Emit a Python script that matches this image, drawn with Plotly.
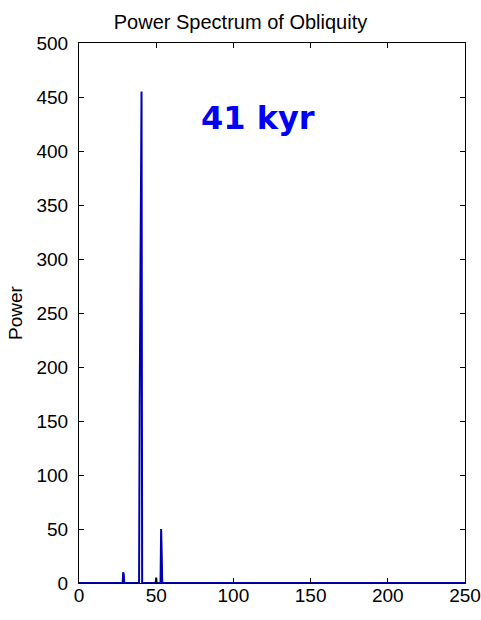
import plotly.graph_objects as go

# Period (kyr) and spectral power
period = [0, 28.3, 28.6, 29.0, 29.3, 38.9, 39.3, 39.9, 40.5, 40.9,
          49.6, 50.0, 50.3, 52.8, 53.2, 53.6, 53.9, 250]
power = [0, 0, 10, 8, 0, 0, 163, 293, 455, 0,
         0, 5, 0, 0, 50, 25, 0, 0]

x_ticks = [0, 50, 100, 150, 200, 250]
y_ticks = [0, 50, 100, 150, 200, 250, 300, 350, 400, 450, 500]

fig = go.Figure()
fig.add_trace(go.Scatter(
    x=period, y=power, mode="lines",
    line=dict(color="rgb(0,0,175)", width=2),
    hoverinfo="skip", showlegend=False,
))

tick_font = dict(family="Liberation Sans, Arial, sans-serif", size=19, color="black")

fig.update_layout(
    width=481, height=620,
    margin=dict(l=79, r=16, t=43, b=37, autoexpand=False),
    paper_bgcolor="white", plot_bgcolor="white",
    title=dict(text="Power Spectrum of Obliquity", x=0.5, xanchor="center",
               y=1 - 22 / 620, yanchor="middle",
               font=dict(family="Liberation Sans, Arial, sans-serif", size=20, color="black")),
    xaxis=dict(range=[0, 250], tickvals=x_ticks, ticks="inside", ticklen=5,
               showline=True, linecolor="black", linewidth=1, mirror="ticks",
               showgrid=False, zeroline=False, tickfont=tick_font, tickcolor="black",
               ticklabelstandoff=-5, automargin=False),
    yaxis=dict(range=[0, 500], tickvals=y_ticks, ticks="inside", ticklen=5,
               showline=True, linecolor="black", linewidth=1, mirror="ticks",
               showgrid=False, zeroline=False, tickfont=tick_font, tickcolor="black",
               ticklabelstandoff=6, automargin=False,
               title=dict(text="Power", standoff=8,
                          font=dict(family="Liberation Sans, Arial, sans-serif", size=19, color="black"))),
    annotations=[dict(
        text="<b>41 kyr</b>", xref="paper", yref="paper",
        x=(258 - 79) / 386, y=(583 - 118) / 540, xanchor="center", yanchor="middle",
        showarrow=False,
        font=dict(family="DejaVu Sans, sans-serif", size=32, color="rgb(0,0,245)"),
    )],
)

fig.write_html("out.html")
